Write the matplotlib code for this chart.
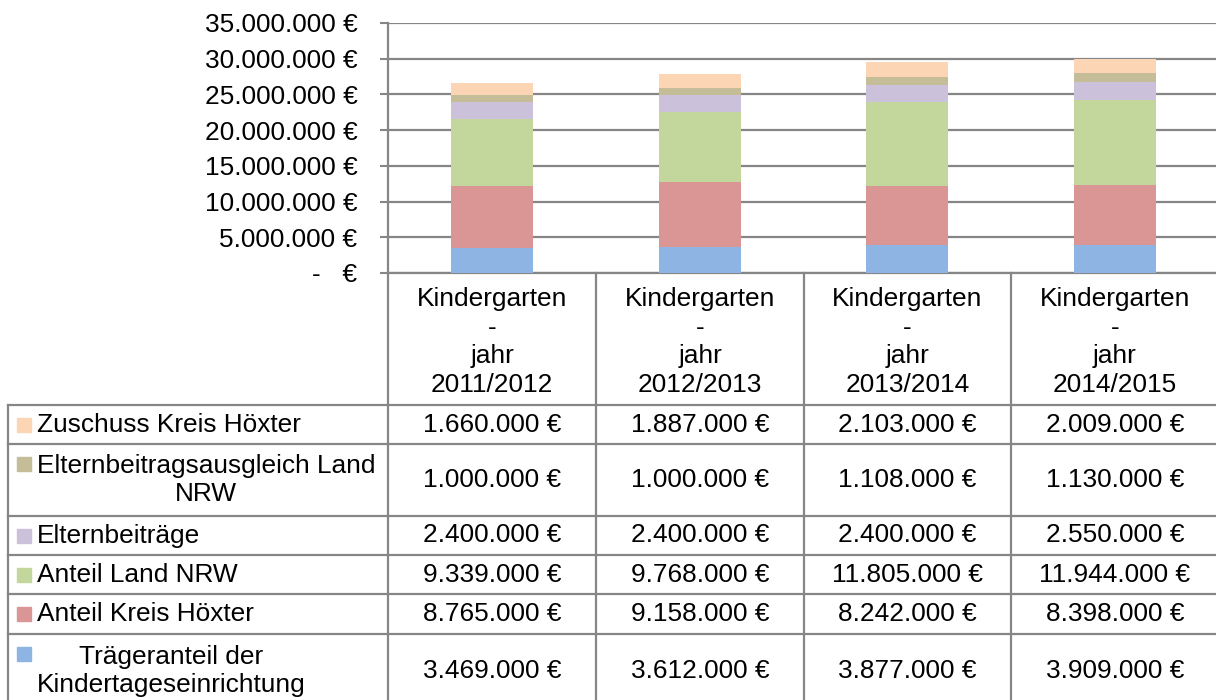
import numpy as np
import matplotlib.pyplot as plt

plt.rcParams['font.family'] = ['Liberation Sans', 'DejaVu Sans']

# Daten: Finanzierung Kindergarten (Euro)
jahre = ["2011/2012", "2012/2013", "2013/2014", "2014/2015"]
traeger = [3469000, 3612000, 3877000, 3909000]
kreis = [8765000, 9158000, 8242000, 8398000]
land = [9339000, 9768000, 11805000, 11944000]
eltern = [2400000, 2400000, 2400000, 2550000]
ausgleich = [1000000, 1000000, 1108000, 1130000]
zuschuss = [1660000, 1887000, 2103000, 2009000]

namen = ["Trägeranteil der\nKindertageseinrichtung", "Anteil Kreis Höxter",
         "Anteil Land NRW", "Elternbeiträge",
         "Elternbeitragsausgleich Land\nNRW", "Zuschuss Kreis Höxter"]
farben = ["#8EB4E3", "#D99694", "#C3D69B", "#CCC1DA", "#C4BD97", "#FCD5B5"]
serien = [traeger, kreis, land, eltern, ausgleich, zuschuss]

GRAU = "#868686"
FS = 18.9
LS = 1.25


def euro(v):
    return f"{v:,}".replace(",", ".") + " €"


W, H = 1216, 700
fig = plt.figure(figsize=(W / 100, H / 100), dpi=100)

# Diagramm
x0, x1, yb, yt = 388, 1219, 273, 23
ax = fig.add_axes([x0 / W, (H - yb) / H, (x1 - x0) / W, (yb - yt) / H])
x = np.arange(len(jahre))
bottom = np.zeros(len(jahre))
for s, c in zip(serien, farben):
    ax.bar(x, s, 0.395, bottom=bottom, color=c, zorder=3)
    bottom += np.array(s)
ax.set_xlim(-0.5, len(jahre) - 0.5)
ax.set_ylim(0, 35e6)
ticks = np.arange(0, 35e6 + 1, 5e6)
ax.set_yticks(ticks)
ax.set_yticklabels(["-   €"] + [euro(int(t)) for t in ticks[1:]], fontsize=FS)
ax.tick_params(axis='y', length=6, width=1.5, color=GRAU, pad=16)
ax.set_xticks([])
ax.grid(axis='y', color=GRAU, lw=1.6, zorder=0)
for sp in ["top", "right"]:
    ax.spines[sp].set_visible(False)
for sp in ["left", "bottom"]:
    ax.spines[sp].set_color(GRAU)
    ax.spines[sp].set_linewidth(1.6)

# Datentabelle
tab = fig.add_axes([0, 0, 1, 1], zorder=5)
tab.set_xlim(0, W)
tab.set_ylim(H, 0)
tab.axis("off")

cols = [388, 596, 804, 1011, 1219]
rows = [405, 444, 516, 555, 594, 634, 708]
for cx in cols:
    tab.plot([cx, cx], [yb, H], color=GRAU, lw=1.6)
tab.plot([8, 8], [rows[0], H], color=GRAU, lw=1.6)
for ry in rows[:-1]:
    tab.plot([8, x1], [ry, ry], color=GRAU, lw=1.6)

for i, j in enumerate(jahre):
    xc = (cols[i] + cols[i + 1]) / 2
    tab.text(xc, 342, "Kindergarten\n-\njahr\n" + j, ha="center", va="center",
             fontsize=FS, linespacing=LS)

for r, k in enumerate(range(len(serien) - 1, -1, -1)):
    top, bot = rows[r], rows[r + 1]
    yc = (top + bot) / 2
    zwei = "\n" in namen[k]
    ykey = top + 20 if zwei else yc
    tab.add_patch(plt.Rectangle((17, ykey - 7), 14, 14, color=farben[k]))
    tab.text(37, yc, namen[k], ha="left", va="center", multialignment="center",
             fontsize=FS, linespacing=LS)
    for i in range(len(jahre)):
        xc = (cols[i] + cols[i + 1]) / 2
        tab.text(xc, yc, euro(serien[k][i]), ha="center", va="center", fontsize=FS)

fig.savefig("out.png", dpi=100)
